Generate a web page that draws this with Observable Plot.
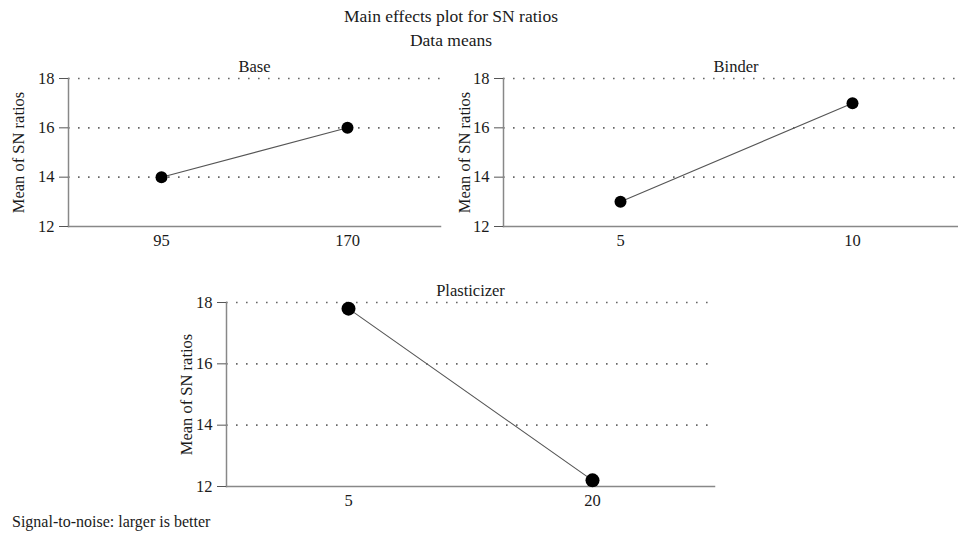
<!DOCTYPE html>
<html>
<head>
<meta charset="utf-8">
<script src="https://cdn.jsdelivr.net/npm/d3@7"></script>
<script src="https://cdn.jsdelivr.net/npm/@observablehq/plot@0.6"></script>
<style>
  html, body { margin: 0; padding: 0; background: #fff; overflow: hidden; }
  body { width: 958px; height: 535px; position: relative; font-family: "Liberation Serif", "DejaVu Serif", serif; color: #1a1a1a; }
  .lbl { position: absolute; white-space: nowrap; transform: translate(-50%, -50%); font-size: 17.5px; }
  .panel { position: absolute; }
  .panel svg { overflow: visible; max-width: none !important; }
</style>
</head>
<body>
<div class="lbl" style="left:451px; top:16px;">Main effects plot for SN ratios</div>
<div class="lbl" style="left:451px; top:40px;">Data means</div>
<div class="lbl" style="left:12px; top:522px; transform: translate(0,-50%); font-size:16px;">Signal-to-noise: larger is better</div>

<script>
// Factor levels and mean SN ratios for each factor
const baseLevels = ["95", "170"];
const baseMeans = [14.0, 16.0];
const binderLevels = ["5", "10"];
const binderMeans = [13.0, 17.0];
const plasticizerLevels = ["5", "20"];
const plasticizerMeans = [17.8, 12.2];

const yDomain = [12, 18];
const yTicks = [12, 14, 16, 18];
const gridTicks = [14, 16, 18];
const yLabel = "Mean of SN ratios";

const ML = 70, MT = 30, MB = 32, MR = 5;
const FONT = '"Liberation Serif", "DejaVu Serif", serif';

function panel(title, levels, means, frame) {
  const data = levels.map((level, i) => ({level, mean: means[i]}));
  const fw = frame.right - frame.left;
  const fh = frame.bottom - frame.top;
  const chart = Plot.plot({
    width: fw + ML + MR,
    height: fh + MT + MB,
    marginLeft: ML, marginRight: MR, marginTop: MT, marginBottom: MB,
    style: {fontFamily: FONT, fontSize: "16.5px", color: "#1a1a1a", background: "transparent"},
    x: {type: "point", domain: levels, padding: 0.5, label: null},
    y: {domain: yDomain, label: null},
    marks: [
      Plot.ruleY(gridTicks, {stroke: "#666", strokeWidth: 1.6, strokeDasharray: "1.6,8.4"}),
      Plot.frame({anchor: "left", stroke: "#888", strokeWidth: 1.5}),
      Plot.frame({anchor: "bottom", stroke: "#888", strokeWidth: 1.5}),
      Plot.axisY({ticks: yTicks, tickFormat: "d", tickSize: 9, tickPadding: 5, stroke: "#555", label: yLabel, labelAnchor: "center", labelArrow: "none", labelOffset: frame.labelOffset, fontSize: 16.5}),
      Plot.axisX({tickSize: 0, tickPadding: 8, label: null, fontSize: 16.5}),
      Plot.line(data, {x: "level", y: "mean", stroke: "#555", strokeWidth: 1.1}),
      Plot.dot(data, {x: "level", y: "mean", r: frame.r, fill: "#000", stroke: "none"}),
      Plot.text([title], {frameAnchor: "top", lineAnchor: "middle", dy: -12, fontSize: 16.5, fill: "#1a1a1a"})
    ]
  });
  const wrap = document.createElement("div");
  wrap.className = "panel";
  wrap.style.left = (frame.left - ML) + "px";
  wrap.style.top = (frame.top - MT) + "px";
  wrap.style.width = (fw + ML + MR) + "px";
  wrap.appendChild(chart);
  document.body.appendChild(wrap);
}

panel("Base", baseLevels, baseMeans, {left: 68, right: 440, top: 78, bottom: 226, r: 6, labelOffset: 56});
panel("Binder", binderLevels, binderMeans, {left: 503, right: 968, top: 78, bottom: 226, r: 6, labelOffset: 45});
panel("Plasticizer", plasticizerLevels, plasticizerMeans, {left: 226, right: 714, top: 302, bottom: 486, r: 7, labelOffset: 46});
</script>
</body>
</html>
